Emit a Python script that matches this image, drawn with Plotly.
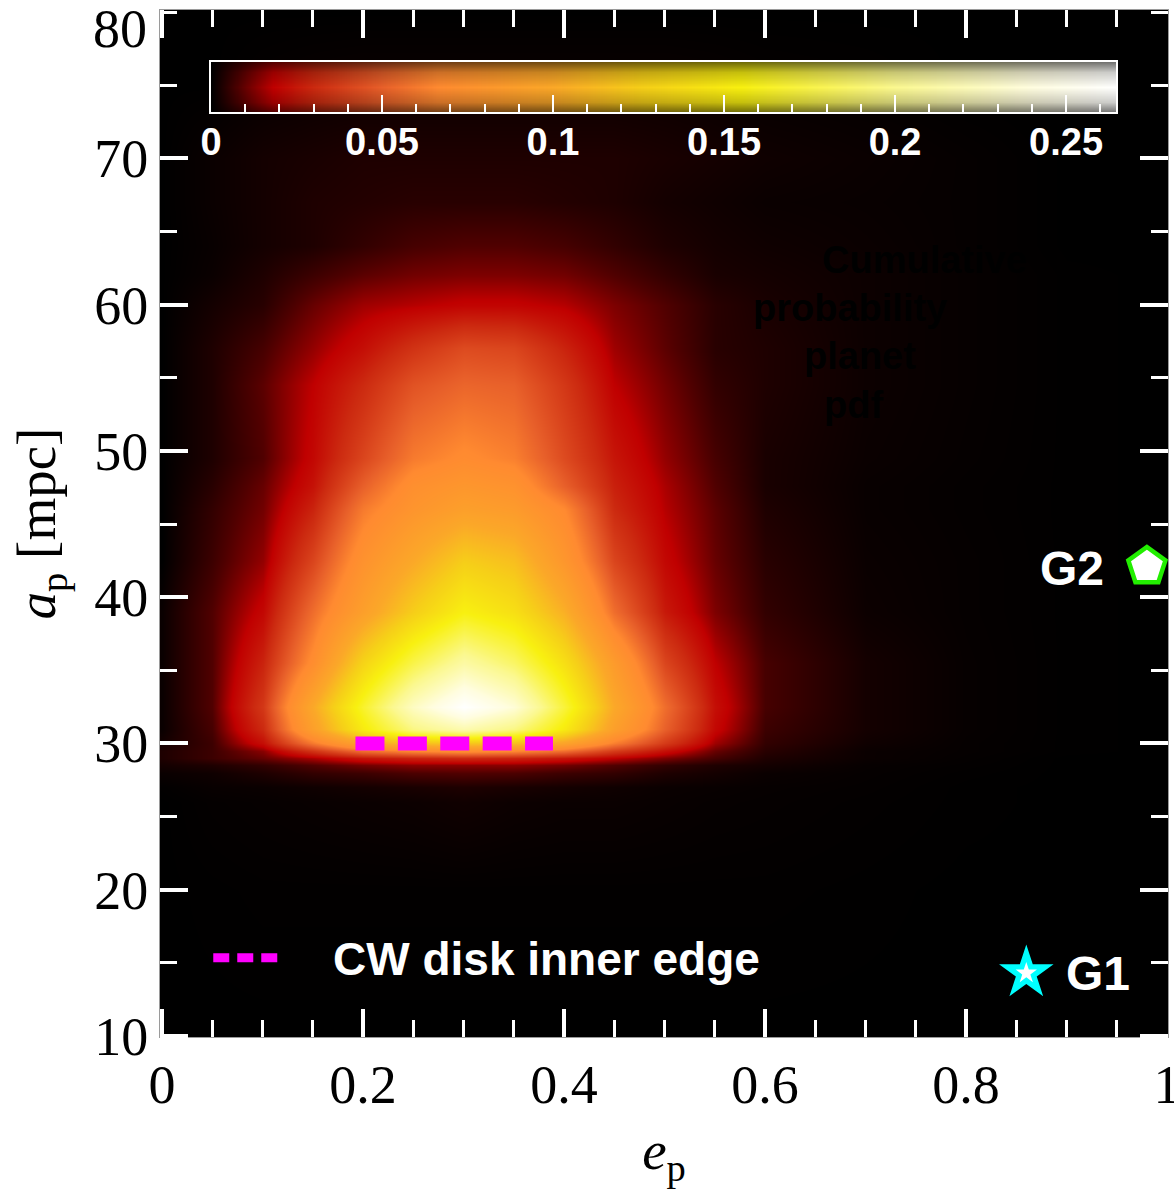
import plotly.graph_objects as go

W, H = 1174, 1189
L, R, T, B = 160, 1168, 10, 1037

e_grid = [0, .05, .1, .15, .2, .25, .3, .35, .4, .45, .5, .55, .6, .7, .8, .9, 1]
a_grid = [10, 20, 26, 27, 28, 28.5, 29, 29.5, 30, 31, 32.5, 35.5, 39, 42.5, 46, 47.6, 49.5, 54.5, 57, 60, 62, 64, 67, 70, 75, 80]
prob = [
 [0,0,0,0,0,0,0,0,0,0,0,0,0,0,0,0,0],
 [0,.0001,.0002,.0002,.0002,.0002,.0002,.0002,.0002,.0002,.0002,.0002,.0002,.0001,0,0,0],
 [0,.0004,.0006,.0008,.001,.0012,.0016,.0012,.001,.001,.0008,.0006,.0005,.0003,.0001,0,0],
 [.0002,.0008,.001,.0015,.002,.0025,.003,.0025,.002,.0015,.001,.0008,.0006,.0004,.0001,0,0],
 [.001,.0015,.003,.005,.006,.0075,.008,.0075,.006,.005,.003,.002,.001,.0005,.0002,0,0],
 [.002,.003,.005,.008,.011,.013,.013,.013,.011,.008,.005,.003,.002,.0006,.0003,0,0],
 [.003,.006,.01,.016,.024,.028,.03,.028,.024,.018,.012,.007,.003,.001,.0004,0,0],
 [.003,.006,.013,.033,.055,.065,.07,.065,.055,.036,.022,.01,.004,.001,.0005,.0001,0],
 [.002,.006,.022,.06,.095,.115,.12,.115,.095,.062,.036,.015,.005,.0015,.0005,.0001,0],
 [.001,.007,.03,.09,.15,.195,.215,.195,.15,.09,.05,.02,.006,.002,.0006,.0001,0],
 [.001,.008,.035,.1,.165,.225,.265,.235,.17,.1,.055,.022,.007,.002,.0006,.0001,0],
 [.001,.008,.028,.07,.13,.175,.21,.185,.14,.085,.04,.018,.007,.002,.0006,.0001,0],
 [.001,.008,.02,.055,.09,.125,.155,.14,.105,.055,.025,.012,.005,.0012,.0005,.0001,0],
 [0,.006,.014,.04,.075,.1,.125,.115,.08,.04,.02,.01,.004,.001,.0005,.0001,0],
 [0,.005,.011,.028,.06,.078,.09,.085,.066,.03,.017,.009,.003,.0008,.0004,.0001,0],
 [0,.004,.01,.023,.05,.072,.08,.075,.05,.027,.016,.008,.0025,.0008,.0004,.0001,0],
 [0,.003,.008,.02,.04,.06,.068,.062,.042,.024,.014,.007,.0025,.001,.0005,.0001,0],
 [0,.003,.009,.018,.03,.045,.052,.05,.035,.018,.011,.005,.003,.0012,.0006,.0001,0],
 [0,.003,.007,.014,.022,.033,.042,.04,.028,.015,.009,.004,.003,.0012,.0006,.0001,0],
 [0,.002,.004,.01,.015,.017,.019,.019,.017,.012,.008,.004,.0025,.0012,.0006,.0001,0],
 [0,.001,.003,.006,.009,.011,.012,.012,.011,.008,.005,.0025,.002,.0012,.0006,.0001,0],
 [0,.0008,.002,.003,.005,.007,.008,.008,.007,.005,.003,.002,.0015,.001,.0005,0,0],
 [0,.001,.002,.003,.0035,.004,.004,.004,.0035,.003,.002,.0015,.001,.0008,.0005,0,0],
 [0,.001,.002,.0025,.003,.003,.003,.003,.003,.003,.0025,.002,.0015,.001,.0005,0,0],
 [0,0,.0005,.0008,.001,.001,.001,.001,.001,.001,.001,.0008,.0005,.0003,0,0,0],
 [0,0,0,0,0,0,0,0,0,0,0,0,0,0,0,0,0],
]

zmax = 0.265
stops = [(0, "#000000"), (.008, "#500000"), (.018, "#c00000"), (.03, "#cc2a10"),
         (.05, "#e8602a"), (.066, "#ff8a30"), (.1, "#fba828"), (.126, "#f6cf18"),
         (.155, "#f8f010"), (.2, "#fbf890"), (.24, "#fffde0"), (.265, "#ffffff")]
heat_scale = [[v / zmax, c] for v, c in stops]

cb_values = [0, .005, .01, .018, .03, .05, .066, .1, .126, .155, .2, .24, .265]
cb_pos = [0, 1]
fade_pos = [0, .2, .5, .8, 1]
fade_amt = [.55, .2, 0, .2, .55]

x_major = [0, .2, .4, .6, .8, 1]
x_labels = ["0", "0.2", "0.4", "0.6", "0.8", "1"]
y_major = [10, 20, 30, 40, 50, 60, 70]
y_labels = ["10", "20", "30", "40", "50", "60", "70"]
cb_major = [0, .05, .1, .15, .2, .25]
cb_labels = ["0", "0.05", "0.1", "0.15", "0.2", "0.25"]

edge_e = [.1925, .389]
edge_a = [30, 30]
legend_e = [.051, .116]
legend_a = [15.34, 15.34]
g1_e, g1_a = [.86], [14.3]
g2_e, g2_a = [.98], [42.1]

SERIF = "Liberation Serif"
SANS = "Liberation Sans"
tick_style = dict(ticks="inside", ticklen=28, tickwidth=4, tickcolor="white",
                  showgrid=False, zeroline=False, mirror="allticks",
                  showline=True, linecolor="#9a9a9a", linewidth=1)
minor_style = dict(ticks="inside", ticklen=17, tickwidth=2.5, tickcolor="white", showgrid=False)

fig = go.Figure()
fig.add_trace(go.Heatmap(x=e_grid, y=a_grid, z=prob, zmin=0, zmax=zmax, colorscale=heat_scale,
                         zsmooth="best", showscale=False, hoverinfo="skip"))
fig.add_trace(go.Scatter(x=edge_e, y=edge_a, mode="lines",
                         line=dict(color="#ff00ff", width=14, dash="29px,13.4px"), showlegend=False))
fig.add_trace(go.Scatter(x=legend_e, y=legend_a, mode="lines",
                         line=dict(color="#ff00ff", width=9, dash="16px,8px"), showlegend=False))
fig.add_trace(go.Scatter(x=g1_e, y=g1_a, mode="markers",
                         marker=dict(symbol="star", size=41, color="#00ffff", line=dict(width=0)), showlegend=False))
fig.add_trace(go.Scatter(x=g1_e, y=g1_a, mode="markers",
                         marker=dict(symbol="star", size=16, color="white", line=dict(width=0)), showlegend=False))
fig.add_trace(go.Scatter(x=g2_e, y=g2_a, mode="markers",
                         marker=dict(symbol="pentagon", size=39, color="white", line=dict(color="#22ee00", width=4.5)),
                         showlegend=False, cliponaxis=False))

fig.add_trace(go.Heatmap(x=cb_values, y=cb_pos, z=[cb_values, cb_values], zmin=0, zmax=zmax, colorscale=heat_scale,
                         zsmooth="best", showscale=False, hoverinfo="skip", xaxis="x2", yaxis="y2"))
fig.add_trace(go.Heatmap(x=[0, .265], y=fade_pos, z=[[a, a] for a in fade_amt], zmin=0, zmax=1,
                         colorscale=[[0, "rgba(0,0,0,0)"], [1, "rgba(0,0,0,1)"]],
                         zsmooth="best", showscale=False, hoverinfo="skip", xaxis="x2", yaxis="y2"))

notes = []
def note(txt, x, y, size, color="white", bold=True, family=SANS, xanchor="center", angle=0):
    notes.append(dict(text=txt, x=x / W, y=1 - y / H, xref="paper", yref="paper", showarrow=False,
                      xanchor=xanchor, yanchor="middle", textangle=angle,
                      font=dict(family=family, size=size, color=color, weight=700 if bold else 400)))

note("G1", 1098, 973, 48)
note("G2", 1072, 569, 48)
note("CW disk inner edge", 546, 959, 46)
note("Cumulative", 820, 260, 38, color="black", xanchor="left")
note("probability", 751, 308, 38, color="black", xanchor="left")
note("planet", 802, 356, 38, color="black", xanchor="left")
note("pdf", 822, 405, 38, color="black", xanchor="left")
note("80", 120, 29, 54, bold=False, family=SERIF, color="black")

fig.update_layout(
    width=W, height=H, autosize=False, margin=dict(l=0, r=0, t=0, b=0),
    paper_bgcolor="white", plot_bgcolor="black", showlegend=False, annotations=notes,
    xaxis=dict(domain=[L / W, R / W], range=[-0.002, 1.001], tickvals=x_major, ticktext=x_labels,
               tickfont=dict(family=SERIF, size=54, color="black"), minor=dict(dtick=.05, **minor_style),
               ticklabeloverflow="allow",
               title=dict(text="<i>e</i><sub>p</sub>", font=dict(family=SERIF, size=55, color="black"), standoff=22),
               layer="above traces", automargin=False, **tick_style),
    yaxis=dict(domain=[1 - B / H, 1 - T / H], range=[9.93, 80.14], tickvals=y_major, ticktext=y_labels,
               tickfont=dict(family=SERIF, size=54, color="black"), minor=dict(dtick=5, **minor_style),
               ticklabelstandoff=0,
               title=dict(text="<i>a</i><sub>p</sub> [mpc]", font=dict(family=SERIF, size=55, color="black"), standoff=20),
               layer="above traces", automargin=False, **tick_style),
    xaxis2=dict(domain=[211 / W, 1116 / W], range=[0, .2646], anchor="y2", tickvals=cb_major, ticktext=cb_labels,
                ticks="inside", ticklen=17, tickwidth=1.5, tickcolor="white", automargin=False,
                minor=dict(dtick=.01, ticks="inside", ticklen=8, tickwidth=1.5, tickcolor="white", showgrid=False),
                tickfont=dict(family=SANS, size=38, color="white", weight=700),
                ticklabelstandoff=-5,
                showgrid=False, zeroline=False, showline=True, mirror=True, linecolor="white", linewidth=2),
    yaxis2=dict(domain=[1 - 112 / H, 1 - 62 / H], range=[0, 1], anchor="x2", showticklabels=False, ticks="",
                automargin=False,
                showgrid=False, zeroline=False, showline=True, mirror=True, linecolor="white", linewidth=2),
)
fig.write_html("out.html", config=dict(displayModeBar=False),
               post_script="document.body.style.margin='0';document.body.style.overflow='hidden';")
